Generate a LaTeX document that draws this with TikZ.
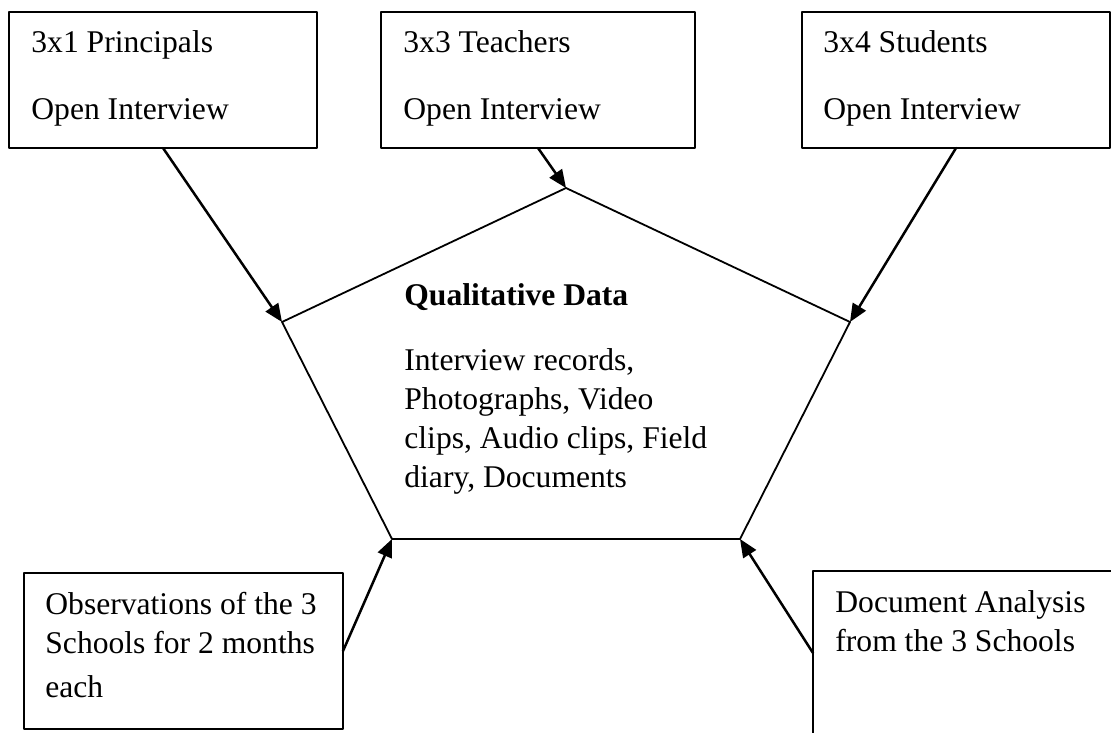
\documentclass[tikz,border=0pt]{standalone}
\usepackage{fontspec}
\setmainfont{Liberation Serif}
\usetikzlibrary{arrows.meta,positioning}
\tikzset{
    every picture/.style={line cap=round,line join=round},
    sourcebox/.style={draw=black,line width=1pt,inner sep=0pt,outer sep=0pt},
    boxtext/.style={inner sep=0pt,align=left,anchor=north west,
      font=\fontsize{15.8}{19.5}\selectfont},
    datashape/.style={draw=black,line width=0.9pt},
    feedarrow/.style={-{Triangle[length=9pt,width=7.5pt]},draw=black,
      line width=1.25pt}
}
\begin{document}
\begin{tikzpicture}[x=0.5pt,y=-0.5pt]
  \clip (0,0) rectangle (1111,732);
  \fill[white] (0,0) rectangle (1111,732);
  % interview boxes on top
  \node[sourcebox,minimum width=154pt,minimum height=68pt] (principals) at (163,80) {};
  \node[sourcebox,minimum width=157pt,minimum height=68pt] (teachers) at (538,80) {};
  \node[sourcebox,minimum width=154pt,minimum height=68pt] (students) at (956,80) {};
  \node[boxtext,below right=9.2pt and 11pt of principals.north west] (principalstext)
    {3x1 Principals\\[14pt]Open Interview};
  \node[boxtext,below right=9.2pt and 11pt of teachers.north west] (teacherstext)
    {3x3 Teachers\\[14pt]Open Interview};
  \node[boxtext,below right=9.2pt and 10.5pt of students.north west] (studentstext)
    {3x4 Students\\[14pt]Open Interview};
  % boxes at the bottom
  \node[sourcebox,minimum width=159.5pt,minimum height=78pt] (observations) at (183.5,651) {};
  \node[sourcebox,minimum width=155pt,minimum height=82pt] (documents) at (968,653) {};
  \node[boxtext,below right=9.2pt and 10.5pt of observations.north west] (observationstext)
    {Observations of the 3\\Schools for 2 months\\[2.5pt]each};
  \node[boxtext,below right=9.6pt and 11pt of documents.north west] (documentstext)
    {Document Analysis\\from the 3 Schools};
  % the pentagon
  \coordinate (qtop) at (566,188);
  \coordinate (qright) at (850,322);
  \coordinate (qbotright) at (740,539);
  \coordinate (qbotleft) at (392,539);
  \coordinate (qleft) at (282,322);
  \draw[datashape] (qtop) -- (qright) -- (qbotright) -- (qbotleft) -- (qleft) -- cycle;
  \node[boxtext] (data) at (404,283.5)
    {\textbf{Qualitative Data}\\[13pt]Interview records,\\Photographs, Video\\clips, Audio clips, Field\\diary, Documents};
  % arrows into the pentagon
  \draw[feedarrow] (principals.south) -- (qleft);
  \draw[feedarrow] (teachers.south) -- (qtop);
  \draw[feedarrow] (students.south) -- (qright);
  \draw[feedarrow] (observations.east) -- (qbotleft);
  \draw[feedarrow] (documents.west) -- (qbotright);
\end{tikzpicture}
\end{document}
